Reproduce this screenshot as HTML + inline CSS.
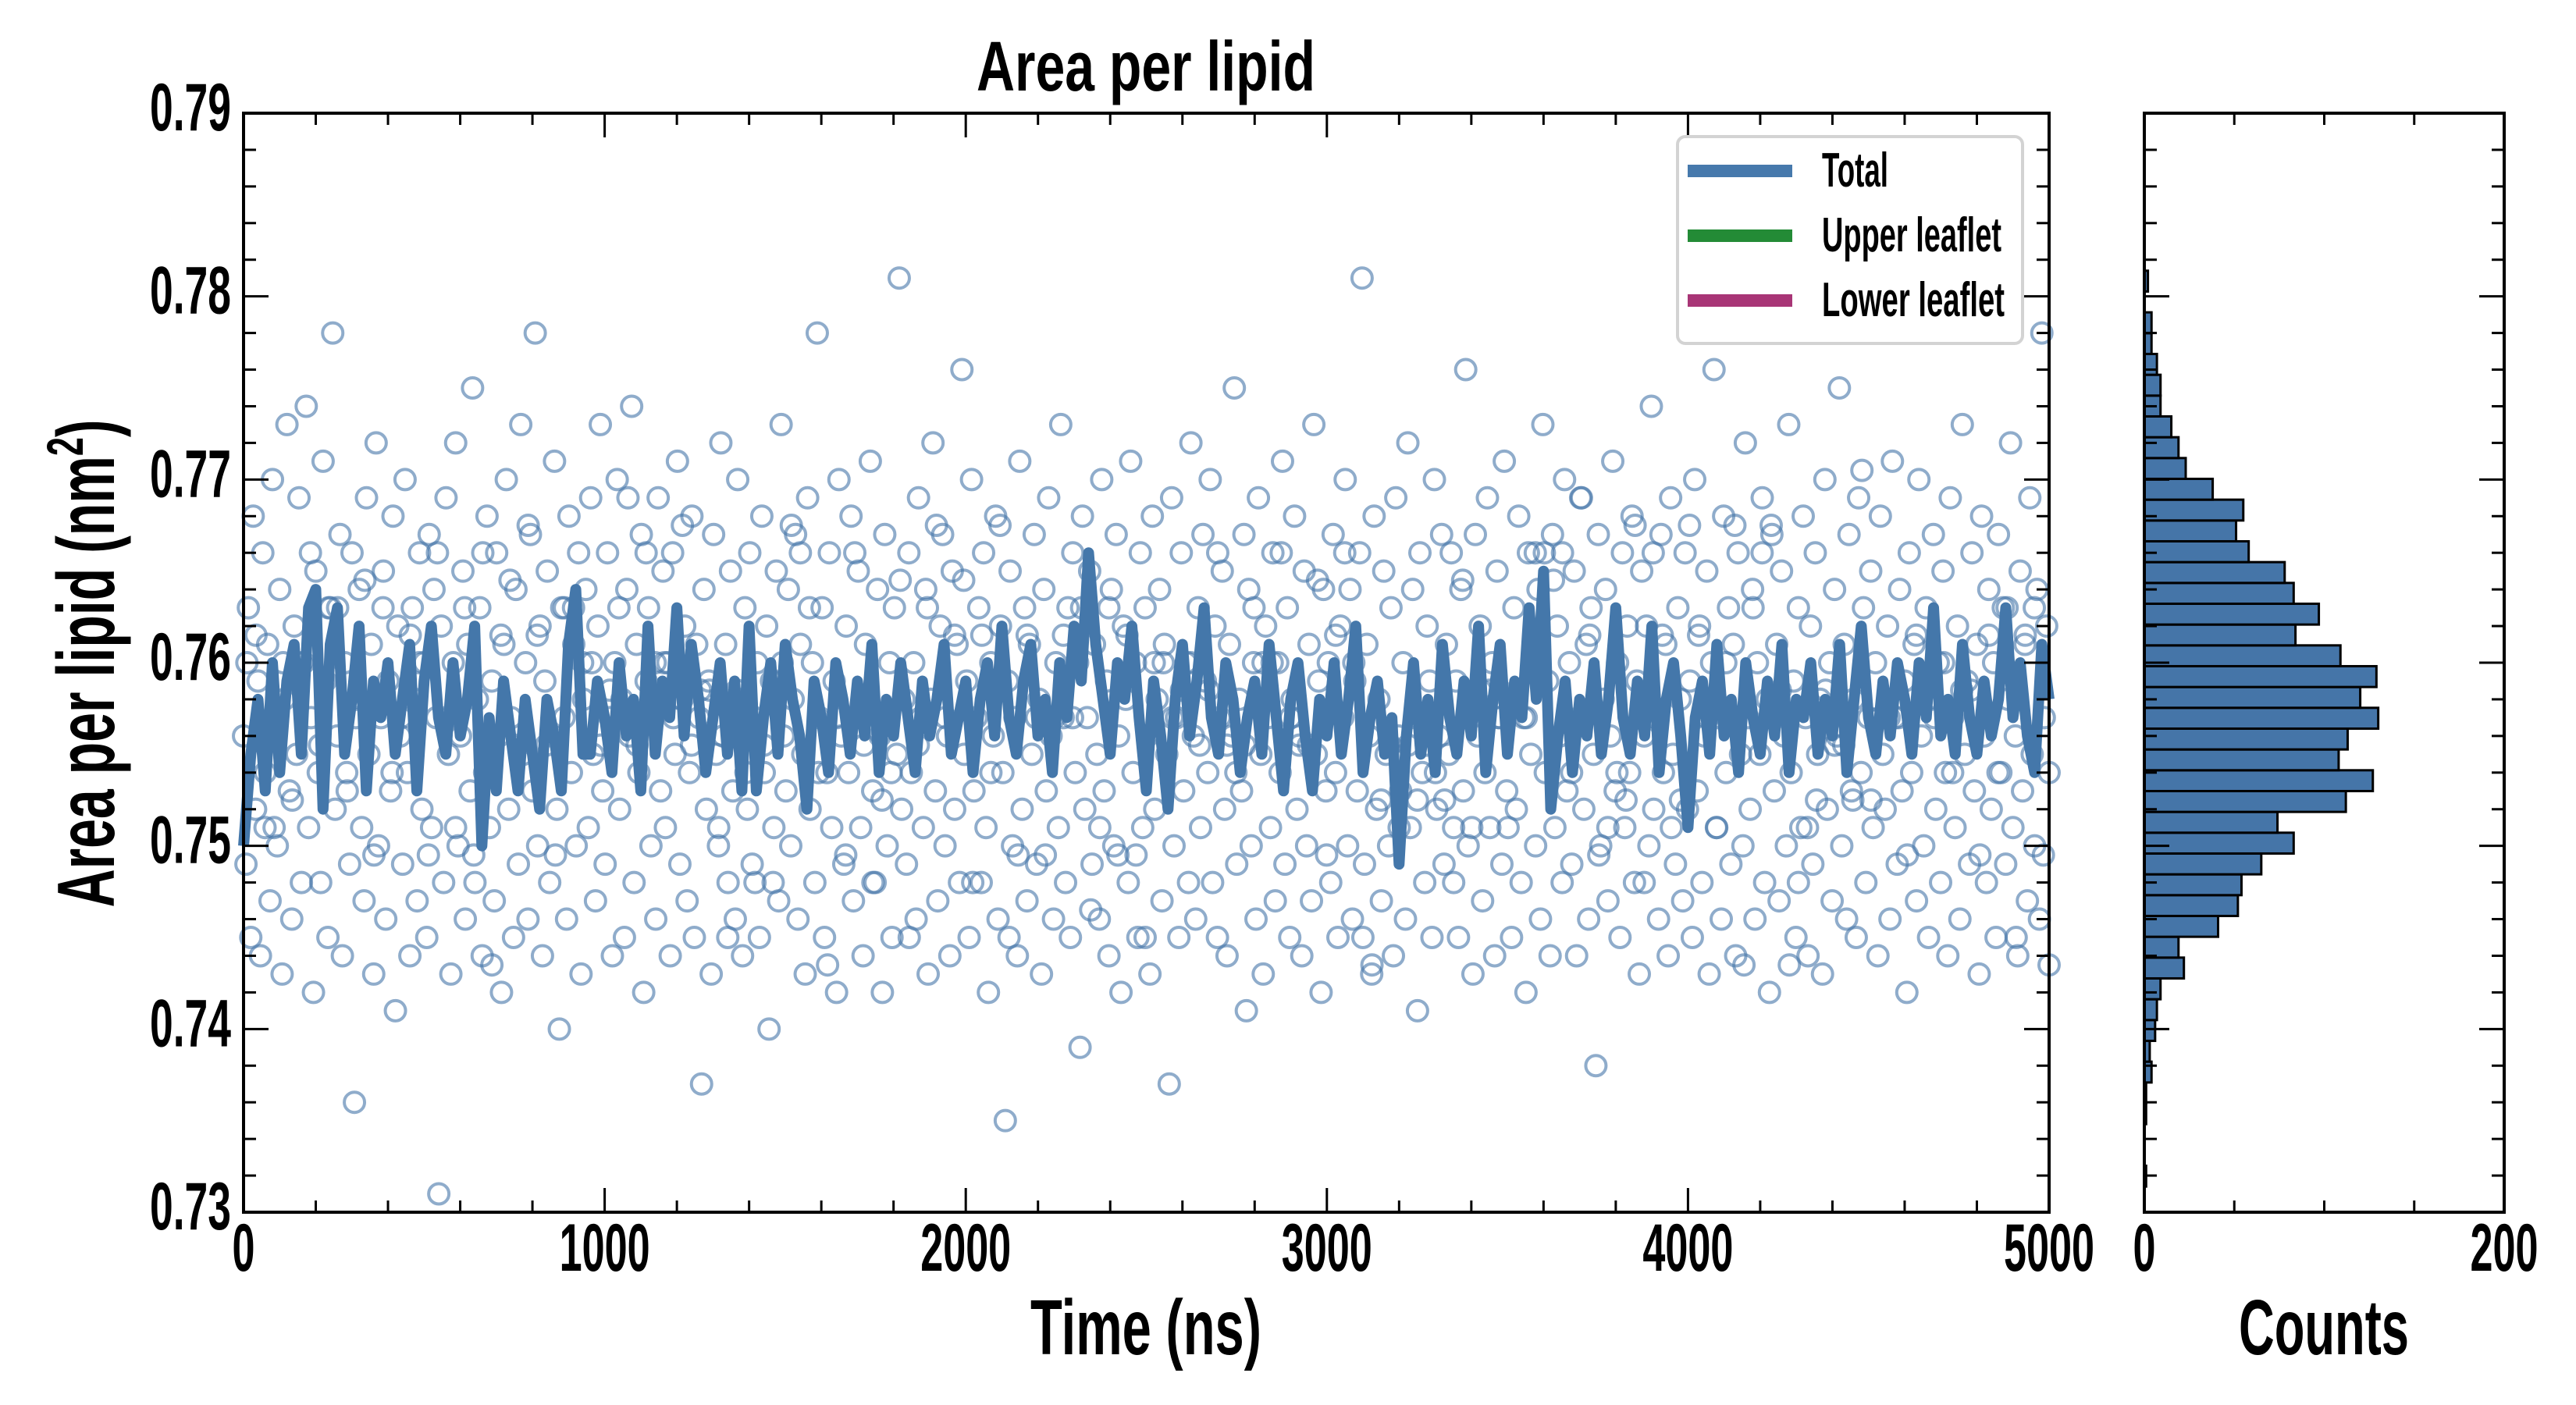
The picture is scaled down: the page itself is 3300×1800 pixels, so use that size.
<!DOCTYPE html>
<html><head><meta charset="utf-8"><style>
html,body{margin:0;padding:0;background:#fff;}
svg{display:block;}
text{font-family:"Liberation Sans",sans-serif;font-weight:bold;fill:#000;}
</style></head><body>
<svg id="chart" width="3300" height="1800" viewBox="0 0 3300 1800" xmlns="http://www.w3.org/2000/svg">
<rect x="0" y="0" width="3300" height="1800" fill="#fff"/>
<g id="main-marks"></g>
<g id="hist-marks"></g>
<g id="axes"></g>
<text x="1468" y="116" font-size="90" text-anchor="middle" textLength="434" lengthAdjust="spacingAndGlyphs">Area per lipid</text>
<text x="1468" y="1735" font-size="100" text-anchor="middle" textLength="296" lengthAdjust="spacingAndGlyphs">Time (ns)</text>
<text x="2977" y="1735" font-size="100" text-anchor="middle" textLength="218" lengthAdjust="spacingAndGlyphs">Counts</text>
<text transform="translate(146,850) rotate(-90)" x="0" y="0" font-size="104" text-anchor="middle" textLength="625" lengthAdjust="spacingAndGlyphs">Area per lipid (nm<tspan font-size="66" dy="-40">2</tspan><tspan dy="40">)</tspan></text>
<g>
<rect x="2149" y="175" width="442" height="265" rx="10" fill="#fff" stroke="#d3d3d3" stroke-width="4"/>
<g><rect x="2162" y="211" width="134" height="16" fill="#4679ac"/><text x="2334" y="239" font-size="62" textLength="85" lengthAdjust="spacingAndGlyphs">Total</text></g>
<g><rect x="2162" y="294" width="134" height="16" fill="#238b36"/><text x="2334" y="322" font-size="62" textLength="230" lengthAdjust="spacingAndGlyphs">Upper leaflet</text></g>
<g><rect x="2162" y="377" width="134" height="16" fill="#a83576"/><text x="2334" y="405" font-size="62" textLength="234" lengthAdjust="spacingAndGlyphs">Lower leaflet</text></g>
</g>
</svg>
<script>
// ---- data ----
const scatterVals = [
.756,.749,.763,.745,.768,.752,.759,.744,.766,.754,.761,.747,.770,.757,.750,.764,.743,.758,.773,.753,.746,.762,.755,.769,.748,
.760,.774,.751,.757,.742,.765,.754,.748,.771,.759,.745,.763,.778,.752,.756,.767,.744,.760,.753,.749,.766,.736,.758,.764,.751,
.747,.769,.755,.761,.743,.772,.750,.757,.765,.746,.759,.753,.768,.741,.762,.756,.749,.770,.754,.744,.763,.758,.747,.766,.752,
.760,.745,.767,.751,.764,.757,.731,.762,.748,.769,.755,.743,.760,.772,.750,.756,.765,.746,.761,.753,.775,.748,.758,.763,.744,
.754,.768,.751,.759,.747,.766,.756,.742,.761,.770,.752,.757,.745,.764,.749,.773,.755,.760,.746,.767,.753,.778,.750,.762,.744,
.759,.765,.748,.756,.771,.752,.740,.763,.757,.746,.768,.754,.761,.750,.766,.743,.758,.764,.751,.769,.755,.747,.762,.773,.753,
.749,.766,.757,.744,.760,.770,.752,.758,.745,.764,.756,.774,.748,.761,.754,.767,.742,.759,.763,.750,.757,.746,.769,.753,.765,
.751,.760,.744,.766,.755,.771,.749,.758,.762,.747,.754,.768,.745,.761,.757,.737,.764,.752,.759,.743,.767,.755,.750,.772,.756,
.761,.748,.765,.753,.746,.770,.758,.744,.763,.752,.766,.749,.757,.760,.745,.768,.754,.762,.740,.759,.751,.765,.747,.773,.756,
.753,.764,.750,.758,.767,.746,.761,.755,.743,.769,.752,.760,.748,.778,.757,.763,.745,.754,.766,.751,.759,.742,.770,.756,.749,
.762,.754,.768,.747,.757,.765,.751,.744,.761,.758,.771,.753,.748,.764,.756,.742,.767,.750,.760,.745,.763,.755,.781,.752,.758,
.749,.766,.754,.760,.746,.769,.757,.751,.764,.743,.758,.772,.753,.747,.762,.767,.750,.756,.744,.765,.752,.761,.748,.776,.755,
.759,.745,.770,.753,.757,.763,.748,.766,.751,.742,.760,.756,.768,.746,.762,.754,.735,.759,.765,.750,.757,.744,.771,.752,.763,
.747,.761,.755,.767,.749,.758,.743,.764,.753,.769,.756,.746,.760,.751,.773,.757,.748,.763,.745,.766,.754,.760,.739,.768,.752,
.757,.765,.749,.761,.755,.746,.770,.753,.759,.744,.764,.750,.767,.756,.742,.762,.758,.748,.771,.754,.760,.745,.766,.751,.763,
.756,.743,.768,.752,.758,.764,.747,.761,.755,.737,.769,.750,.757,.745,.766,.753,.760,.748,.772,.756,.746,.763,.751,.767,.759,
.754,.770,.748,.762,.745,.757,.765,.752,.744,.761,.756,.775,.749,.758,.753,.767,.741,.764,.750,.760,.746,.769,.755,.743,.762,
.757,.751,.766,.747,.760,.754,.771,.749,.763,.745,.758,.768,.752,.756,.744,.765,.750,.761,.747,.773,.755,.759,.742,.764,.753,
.760,.748,.767,.754,.745,.762,.757,.770,.750,.764,.746,.759,.753,.766,.781,.749,.761,.756,.743,.768,.752,.758,.747,.765,.755,
.750,.763,.744,.769,.756,.753,.760,.746,.772,.751,.764,.757,.741,.766,.754,.748,.762,.759,.745,.770,.752,.756,.767,.749,.761,
.755,.766,.748,.759,.745,.764,.753,.776,.750,.758,.743,.767,.756,.762,.747,.754,.769,.751,.760,.744,.765,.757,.749,.771,.753,
.758,.745,.763,.752,.768,.748,.757,.742,.766,.755,.761,.750,.764,.746,.773,.754,.759,.744,.767,.751,.762,.756,.748,.770,.753,
.760,.749,.765,.744,.757,.769,.752,.761,.746,.763,.755,.738,.767,.750,.758,.764,.747,.756,.771,.753,.760,.745,.766,.751,.762,
.754,.768,.748,.759,.743,.765,.756,.762,.750,.774,.752,.757,.746,.767,.754,.761,.744,.769,.755,.749,.763,.758,.747,.766,.752,
.759,.745,.770,.753,.762,.748,.756,.765,.743,.760,.776,.751,.757,.746,.768,.754,.763,.749,.761,.744,.766,.755,.750,.772,.757,
.752,.764,.746,.760,.755,.769,.748,.758,.742,.767,.753,.761,.747,.765,.756,.750,.773,.754,.759,.745,.763,.751,.768,.757,.744,
.762,.749,.766,.755,.758,.743,.770,.752,.760,.747,.764,.756,.775,.750,.761,.746,.767,.753,.758,.745,.769,.754,.763,.748,.757,
.765,.751,.760,.744,.768,.755,.752,.762,.746,.771,.757,.749,.764,.753,.759,.742,.766,.754,.761,.747,.770,.756,.750,.763,.745,
.758,.767,.752,.760,.748,.765,.754,.744,.769,.757,.751,.762,.746,.773,.755,.759,.749,.766,.753,.761,.743,.768,.756,.748,.764,
.752,.760,.745,.767,.754,.763,.749,.758,.772,.751,.756,.744,.765,.753,.761,.747,.769,.755,.750,.764,.746,.778,.757,.762,.754
];
const scatterVals2 = [
.760,.7615,.751,.751,.760,.7525,.760,.766,.7555,.763,.763,.754,.757,.7645,.7495,.763,.754,.757,.7615,.760,
.7495,.766,.757,.751,.763,.7495,.766,.7435,.7615,.7645,.7555,.7675,.7615,.7555,.7495,.763,.763,.760,.760,.7555,
.7585,.763,.769,.7555,.766,.760,.760,.757,.7675,.7555,.7585,.7585,.751,.745,.7585,.754,.748,.7555,.748,.760,
.7675,.766,.763,.754,.7435,.757,.7495,.766,.7555,.748,.7525,.754,.7645,.745,.7555,.763,.7675,.757,.7615,.7645,
.748,.7615,.754,.7675,.745,.7495,.7615,.757,.7495,.757,.7615,.757,.763,.7465,.751,.763,.7495,.7615,.7495,.745,
.760,.760,.757,.7585,.760,.7555,.7585,.766,.7555,.754,.7555,.763,.760,.760,.766,.757,.7555,.7555,.7645,.7495,
.7615,.766,.760,.745,.7435,.7525,.7555,.751,.7555,.7525,.7555,.754,.7525,.751,.7645,.751,.7585,.7585,.757,.751,
.7585,.757,.766,.766,.7645,.766,.754,.769,.7615,.7495,.751,.754,.7525,.7675,.748,.766,.7615,.751,.7525,.7675,
.7615,.757,.751,.760,.7675,.7435,.763,.766,.7675,.7585,.7435,.748,.751,.7525,.7585,.7555,.7555,.7525,.7705,.7525,
.757,.757,.757,.7495,.7615,.7585,.757,.760,.754,.7585,.7585,.7495,.7615,.754,.763,.745,.7615,.763,.7495,.7435
];
const lineVals = [
.750,.755,.758,.753,.760,.754,.759,.761,.755,.763,.764,.752,.761,.763,.755,.758,.762,.753,.759,.757,
.760,.755,.758,.761,.753,.759,.762,.757,.755,.760,.756,.758,.762,.750,.757,.753,.759,.756,.753,.758,
.755,.752,.758,.756,.753,.761,.764,.755,.755,.759,.757,.754,.760,.756,.758,.753,.762,.755,.759,.757,
.763,.756,.761,.758,.754,.757,.760,.755,.759,.753,.762,.753,.757,.760,.755,.761,.758,.756,.752,.759,
.757,.754,.760,.758,.755,.759,.756,.761,.754,.758,.756,.760,.757,.754,.759,.756,.758,.761,.755,.757,
.759,.754,.758,.760,.756,.762,.757,.755,.759,.761,.756,.758,.754,.760,.757,.762,.759,.766,.761,.758,
.755,.760,.758,.762,.757,.753,.759,.756,.752,.758,.761,.756,.759,.763,.757,.755,.760,.758,.754,.757,
.759,.755,.761,.757,.753,.758,.760,.756,.753,.758,.756,.760,.755,.758,.762,.754,.757,.759,.755,.757,
.749,.756,.760,.755,.758,.754,.761,.757,.755,.759,.756,.762,.754,.758,.761,.755,.759,.757,.763,.758,
.765,.752,.756,.759,.754,.758,.756,.760,.755,.758,.763,.757,.755,.759,.756,.762,.754,.758,.760,.756,
.751,.757,.759,.755,.761,.756,.758,.754,.760,.757,.755,.759,.756,.761,.754,.758,.757,.760,.755,.758,
.756,.761,.754,.758,.762,.757,.755,.759,.756,.760,.758,.755,.760,.757,.763,.756,.758,.755,.761,.757,
.755,.759,.756,.758,.763,.757,.760,.756,.754,.761,.758
];
const histCounts = [1,0,0,1,1,4,3,6,7,9,22,19,41,52,54,65,83,74,112,127,108,113,130,120,129,109,84,97,83,78,58,51,55,38,23,19,15,9,9,7,4,4,0,2];
const histBinStart = [0.7314];
const histBinEnd = [0.7814];
const xTickLabels = ["0","1000","2000","3000","4000","5000"];
const yTickLabels = ["0.73","0.74","0.75","0.76","0.77","0.78","0.79"];
const histTickLabels = ["0","200"];

// ---- layout ----
const NS="http://www.w3.org/2000/svg";
const PL=312, PR=2625, PT=145, PB=1553;
const HL=2747, HR=3208;
const xMin=0,xMax=5000,yMin=0.73,yMax=0.79,cMax=200;
const xs=v=>PL+(v-xMin)/(xMax-xMin)*(PR-PL);
const ys=v=>PB-(v-yMin)/(yMax-yMin)*(PB-PT);
const cs=v=>HL+v/cMax*(HR-HL);
function mk(tag,attrs,parent){const e=document.createElementNS(NS,tag);for(const k in attrs)e.setAttribute(k,attrs[k]);parent.appendChild(e);return e;}
const gMain=document.getElementById('main-marks');
const gHist=document.getElementById('hist-marks');
const gAx=document.getElementById('axes');

function drawScatter(arr,offset){
  const n=arr.length;
  arr.forEach((v,i)=>{
    const t=Math.min(xMax,(i+offset)*(xMax-xMin)/(n-1));
    const c=mk('circle',{cx:xs(t),cy:ys(v),r:13,fill:'none',stroke:'#4575a8','stroke-opacity':0.6,'stroke-width':4},gMain);
    
    
  });
}
drawScatter(scatterVals,0);
drawScatter(scatterVals2,0.37);
const nL=lineVals.length;
let d='';
lineVals.forEach((v,i)=>{const t=i*(xMax-xMin)/(nL-1);d+=(i?'L':'M')+xs(t).toFixed(1)+' '+ys(v).toFixed(1);});
const ln=mk('path',{d:d,fill:'none',stroke:'#4477aa','stroke-width':14,'stroke-linejoin':'round'},gMain);



const bw=(histBinEnd[0]-histBinStart[0])/histCounts.length;
histCounts.forEach((c,i)=>{
  if(c<=0)return;
  const lo=histBinStart[0]+i*bw, hi=lo+bw;
  const r=mk('rect',{x:cs(0),y:ys(hi),width:cs(c)-cs(0),height:ys(lo)-ys(hi),fill:'#4575a8',stroke:'#000','stroke-width':3},gHist);
  
  
});

[[PL,PR],[HL,HR]].forEach(([l,r],k)=>{
  const f=mk('rect',{x:l,y:PT,width:r-l,height:PB-PT,fill:'none',stroke:'#000','stroke-width':4},gAx);
  
  
});
function tick(x1,y1,x2,y2){const t=mk('line',{x1:x1,y1:y1,x2:x2,y2:y2,stroke:'#000','stroke-width':3},gAx);
  
  }
for(let k=0;k<=30;k++){
  const v=yMin+k*0.002, y=ys(v), major=(k%5===0), L=major?32:16;
  tick(PL,y,PL+L,y); tick(PR,y,PR-L,y); tick(HL,y,HL+L,y); tick(HR,y,HR-L,y);
}
for(let t=0;t<=5000;t+=200){const x=xs(t),L=(t%1000===0)?31:15;tick(x,PB,x,PB-L);tick(x,PT,x,PT+L);}
for(let c=0;c<=200;c+=50){const x=cs(c),L=(c%200===0)?31:15;tick(x,PB,x,PB-L);tick(x,PT,x,PT+L);}
function lab(txt,x,y,anchor,w,name){const e=mk('text',{x:x,y:y,'font-size':86,'text-anchor':anchor,textLength:w,lengthAdjust:'spacingAndGlyphs'},gAx);e.textContent=txt;
  
  }
yTickLabels.forEach((s,i)=>lab(s,296,ys(yMin+i*0.01)+22,'end',104,'y-tick-label'));
xTickLabels.forEach((s,i)=>lab(s,xs(i*1000),1628,'middle',s.length*29,'x-tick-label'));
histTickLabels.forEach((s,i)=>lab(s,cs(i*200),1628,'middle',s.length*29,'hist-x-tick-label'));
</script>
</body></html>
